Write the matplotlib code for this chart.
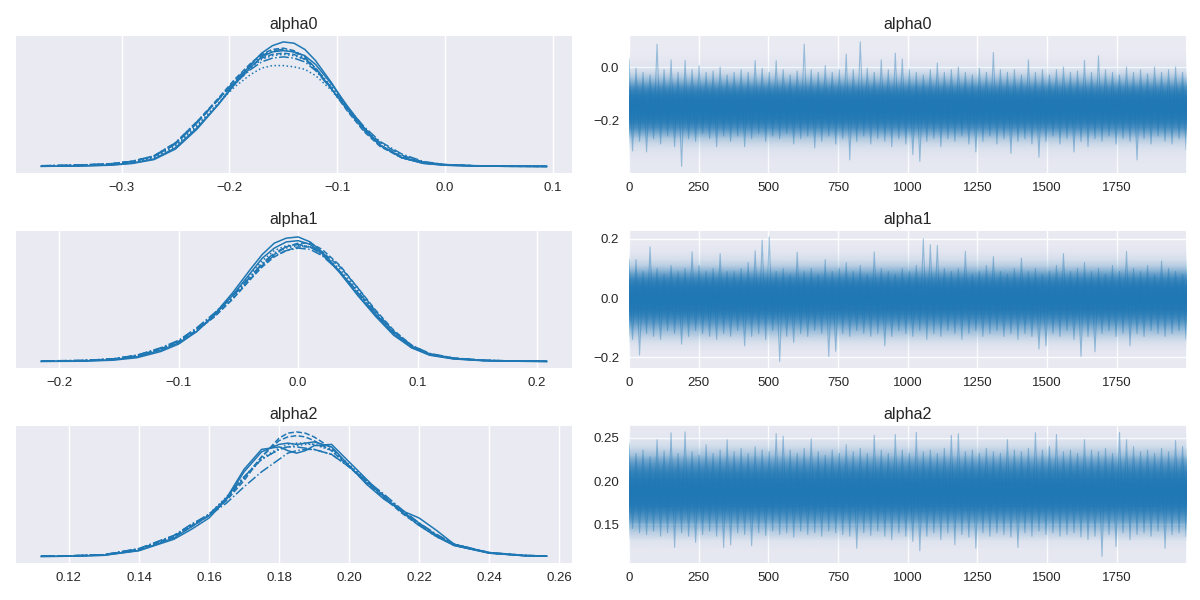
import matplotlib
matplotlib.use("Agg")
import matplotlib.pyplot as plt
from matplotlib.colors import LinearSegmentedColormap, FuncNorm, to_rgba
from matplotlib.image import NonUniformImage
import numpy as np

plt.rcParams['font.family'] = ['Liberation Sans', 'DejaVu Sans']

C0 = "#1f77b4"
BG = "#EAEAF2"
params = ["alpha0", "alpha1", "alpha2"]
chain_styles = ["solid", "dotted", "dashed", "dashdot",
                "solid", "dotted", "dashed", "dashdot"]

# ---------------- KDE curves (relative density, one list per chain) -------------
kde_x_alpha0 = [-0.3746, -0.34, -0.31, -0.29, -0.27, -0.25, -0.23, -0.21, -0.195, -0.18,
                -0.17, -0.16, -0.15, -0.14, -0.13, -0.12, -0.105, -0.09, -0.075, -0.06,
                -0.04, -0.02, 0.0, 0.03, 0.06, 0.0945]
kde_alpha0 = [
    [0.001, 0.003, 0.010, 0.024, 0.055, 0.14, 0.30, 0.50, 0.67, 0.82, 0.91, 0.97, 1.00, 0.99, 0.94, 0.85, 0.67, 0.47, 0.30, 0.17, 0.07, 0.025, 0.010, 0.003, 0.001, 0.000],
    [0.004, 0.008, 0.018, 0.035, 0.075, 0.17, 0.33, 0.51, 0.64, 0.74, 0.79, 0.81, 0.81, 0.80, 0.78, 0.73, 0.61, 0.45, 0.30, 0.17, 0.07, 0.03, 0.015, 0.005, 0.002, 0.000],
    [0.005, 0.010, 0.022, 0.042, 0.085, 0.19, 0.36, 0.55, 0.70, 0.83, 0.90, 0.94, 0.95, 0.93, 0.88, 0.79, 0.62, 0.44, 0.28, 0.16, 0.07, 0.03, 0.012, 0.004, 0.001, 0.000],
    [0.006, 0.012, 0.020, 0.040, 0.080, 0.18, 0.35, 0.54, 0.69, 0.82, 0.89, 0.93, 0.94, 0.92, 0.87, 0.79, 0.63, 0.47, 0.32, 0.20, 0.10, 0.04, 0.015, 0.005, 0.002, 0.001],
    [0.001, 0.004, 0.012, 0.028, 0.060, 0.15, 0.31, 0.50, 0.66, 0.80, 0.88, 0.92, 0.93, 0.92, 0.89, 0.82, 0.66, 0.48, 0.31, 0.17, 0.07, 0.025, 0.010, 0.003, 0.001, 0.000],
    [0.003, 0.007, 0.017, 0.033, 0.070, 0.16, 0.32, 0.51, 0.66, 0.79, 0.86, 0.89, 0.90, 0.89, 0.86, 0.79, 0.64, 0.47, 0.30, 0.17, 0.075, 0.03, 0.013, 0.004, 0.001, 0.000],
    [0.004, 0.009, 0.020, 0.040, 0.080, 0.18, 0.35, 0.54, 0.68, 0.80, 0.87, 0.90, 0.91, 0.90, 0.86, 0.78, 0.62, 0.45, 0.29, 0.17, 0.08, 0.035, 0.015, 0.006, 0.003, 0.001],
    [0.005, 0.010, 0.022, 0.042, 0.085, 0.19, 0.36, 0.54, 0.67, 0.78, 0.84, 0.87, 0.88, 0.87, 0.84, 0.77, 0.62, 0.46, 0.31, 0.19, 0.09, 0.035, 0.014, 0.005, 0.002, 0.000],
]

kde_x_alpha1 = [-0.2151, -0.18, -0.155, -0.135, -0.115, -0.10, -0.085, -0.07, -0.055, -0.04,
                -0.03, -0.02, -0.01, 0.0, 0.01, 0.02, 0.035, 0.05, 0.065, 0.08,
                0.095, 0.11, 0.13, 0.155, 0.18, 0.208]
kde_alpha1 = [
    [0.000, 0.002, 0.010, 0.030, 0.08, 0.14, 0.24, 0.38, 0.55, 0.74, 0.86, 0.95, 0.99, 1.00, 0.96, 0.88, 0.72, 0.53, 0.36, 0.21, 0.11, 0.05, 0.020, 0.006, 0.002, 0.000],
    [0.003, 0.007, 0.020, 0.048, 0.10, 0.16, 0.25, 0.37, 0.51, 0.67, 0.78, 0.86, 0.91, 0.93, 0.92, 0.87, 0.74, 0.57, 0.39, 0.24, 0.12, 0.06, 0.025, 0.009, 0.004, 0.001],
    [0.002, 0.006, 0.018, 0.044, 0.10, 0.16, 0.25, 0.36, 0.50, 0.66, 0.77, 0.86, 0.92, 0.95, 0.95, 0.90, 0.77, 0.59, 0.40, 0.24, 0.12, 0.06, 0.025, 0.008, 0.003, 0.001],
    [0.004, 0.008, 0.020, 0.050, 0.11, 0.17, 0.27, 0.39, 0.53, 0.68, 0.78, 0.85, 0.89, 0.91, 0.90, 0.85, 0.72, 0.56, 0.39, 0.24, 0.13, 0.065, 0.028, 0.010, 0.004, 0.002],
    [0.001, 0.004, 0.014, 0.038, 0.09, 0.15, 0.24, 0.37, 0.53, 0.71, 0.83, 0.91, 0.96, 0.97, 0.94, 0.87, 0.71, 0.53, 0.37, 0.22, 0.11, 0.055, 0.022, 0.007, 0.002, 0.000],
    [0.002, 0.006, 0.017, 0.045, 0.10, 0.16, 0.26, 0.38, 0.53, 0.70, 0.81, 0.89, 0.93, 0.94, 0.92, 0.86, 0.72, 0.55, 0.38, 0.23, 0.12, 0.06, 0.024, 0.008, 0.003, 0.001],
    [0.003, 0.007, 0.020, 0.046, 0.10, 0.16, 0.25, 0.36, 0.50, 0.66, 0.76, 0.84, 0.89, 0.92, 0.92, 0.88, 0.76, 0.59, 0.41, 0.25, 0.13, 0.06, 0.026, 0.009, 0.004, 0.001],
    [0.004, 0.008, 0.021, 0.050, 0.105, 0.165, 0.26, 0.38, 0.52, 0.68, 0.79, 0.87, 0.92, 0.94, 0.92, 0.86, 0.72, 0.55, 0.38, 0.23, 0.12, 0.06, 0.026, 0.009, 0.004, 0.002],
]

kde_x_alpha2 = [0.1121, 0.12, 0.13, 0.14, 0.15, 0.155, 0.16, 0.165, 0.17, 0.175,
                0.18, 0.1825, 0.185, 0.1875, 0.19, 0.195, 0.20, 0.205, 0.21, 0.215,
                0.22, 0.225, 0.23, 0.24, 0.25, 0.2564]
kde_alpha2 = [
    [0.002, 0.004, 0.012, 0.050, 0.15, 0.24, 0.33, 0.47, 0.70, 0.86, 0.88, 0.85, 0.83, 0.85, 0.89, 0.90, 0.76, 0.62, 0.48, 0.36, 0.27, 0.17, 0.09, 0.028, 0.008, 0.004],
    [0.004, 0.006, 0.014, 0.058, 0.16, 0.25, 0.34, 0.47, 0.63, 0.78, 0.86, 0.88, 0.89, 0.90, 0.90, 0.86, 0.74, 0.61, 0.49, 0.37, 0.26, 0.17, 0.10, 0.032, 0.010, 0.005],
    [0.006, 0.007, 0.015, 0.060, 0.165, 0.25, 0.33, 0.45, 0.61, 0.80, 0.95, 0.99, 1.00, 0.99, 0.96, 0.87, 0.73, 0.60, 0.48, 0.36, 0.25, 0.16, 0.09, 0.030, 0.009, 0.004],
    [0.005, 0.007, 0.016, 0.065, 0.17, 0.26, 0.33, 0.43, 0.56, 0.68, 0.78, 0.83, 0.85, 0.86, 0.86, 0.82, 0.72, 0.61, 0.50, 0.38, 0.27, 0.18, 0.10, 0.034, 0.011, 0.005],
    [0.002, 0.004, 0.011, 0.048, 0.14, 0.22, 0.31, 0.46, 0.68, 0.84, 0.90, 0.91, 0.90, 0.91, 0.92, 0.88, 0.73, 0.58, 0.46, 0.37, 0.31, 0.21, 0.10, 0.030, 0.008, 0.004],
    [0.004, 0.006, 0.014, 0.060, 0.165, 0.25, 0.34, 0.48, 0.64, 0.79, 0.87, 0.90, 0.91, 0.91, 0.90, 0.85, 0.73, 0.60, 0.48, 0.36, 0.26, 0.17, 0.095, 0.030, 0.010, 0.005],
    [0.005, 0.006, 0.014, 0.058, 0.16, 0.24, 0.33, 0.46, 0.63, 0.80, 0.93, 0.96, 0.97, 0.96, 0.93, 0.85, 0.72, 0.59, 0.47, 0.35, 0.25, 0.16, 0.09, 0.030, 0.009, 0.004],
    [0.005, 0.007, 0.016, 0.064, 0.17, 0.26, 0.34, 0.47, 0.64, 0.78, 0.86, 0.88, 0.88, 0.87, 0.86, 0.82, 0.72, 0.60, 0.49, 0.37, 0.26, 0.17, 0.10, 0.033, 0.011, 0.005],
]

# ---------------- Trace envelopes (per block of 25 draws: highest / lowest value) ----
n_draws = 2000
trace_hi_alpha0 = [0.03, -0.005, -0.02, -0.03, 0.086, -0.01, 0.027, -0.02, 0.025, -0.01,
                   0.005, -0.02, -0.015, 0.0, -0.03, -0.02, -0.01, -0.02, 0.024, -0.005,
                   -0.02, 0.024, -0.01, -0.03, -0.015, 0.086, -0.01, -0.02, 0.005, -0.02,
                   -0.01, 0.049, -0.01, 0.0945, -0.005, -0.02, 0.027, -0.01, 0.052, 0.03,
                   -0.01, -0.02, -0.03, -0.01, 0.015, -0.02, -0.01, 0.0, -0.02, -0.03,
                   -0.005, -0.02, 0.055, -0.01, -0.02, -0.01, -0.03, 0.027, -0.02, -0.01,
                   -0.03, -0.01, 0.0, -0.02, -0.015, 0.025, -0.02, 0.042, -0.01, -0.02,
                   -0.03, 0.0, -0.02, -0.01, -0.025, 0.0, -0.02, -0.01, 0.0, -0.02]
trace_lo_alpha0 = [-0.316, -0.28, -0.32, -0.27, -0.29, -0.26, -0.30, -0.3746, -0.27, -0.28,
                   -0.25, -0.27, -0.30, -0.26, -0.28, -0.26, -0.30, -0.27, -0.25, -0.28,
                   -0.26, -0.27, -0.25, -0.29, -0.27, -0.26, -0.305, -0.28, -0.26, -0.29,
                   -0.27, -0.35, -0.28, -0.26, -0.29, -0.27, -0.28, -0.30, -0.27, -0.29,
                   -0.33, -0.356, -0.28, -0.27, -0.30, -0.27, -0.28, -0.26, -0.29, -0.32,
                   -0.28, -0.26, -0.29, -0.27, -0.325, -0.28, -0.27, -0.29, -0.34, -0.28,
                   -0.26, -0.29, -0.27, -0.32, -0.28, -0.30, -0.27, -0.28, -0.26, -0.29,
                   -0.27, -0.28, -0.35, -0.27, -0.29, -0.26, -0.28, -0.29, -0.27, -0.31]

trace_hi_alpha1 = [0.13, 0.13, 0.09, 0.173, 0.10, 0.08, 0.11, 0.09, 0.10, 0.156,
                   0.11, 0.09, 0.10, 0.15, 0.09, 0.09, 0.10, 0.12, 0.16, 0.196,
                   0.2067, 0.09, 0.10, 0.08, 0.155, 0.09, 0.10, 0.08, 0.13, 0.09,
                   0.10, 0.12, 0.09, 0.11, 0.08, 0.156, 0.10, 0.09, 0.08, 0.10,
                   0.09, 0.11, 0.20, 0.18, 0.178, 0.10, 0.09, 0.10, 0.158, 0.08,
                   0.09, 0.11, 0.14, 0.09, 0.08, 0.10, 0.135, 0.09, 0.10, 0.08,
                   0.09, 0.11, 0.15, 0.09, 0.10, 0.12, 0.09, 0.10, 0.08, 0.11,
                   0.09, 0.158, 0.10, 0.09, 0.11, 0.08, 0.125, 0.10, 0.09, 0.08]
trace_lo_alpha1 = [-0.14, -0.193, -0.12, -0.13, -0.14, -0.11, -0.12, -0.156, -0.13, -0.11,
                   -0.12, -0.13, -0.14, -0.12, -0.13, -0.11, -0.162, -0.13, -0.12, -0.14,
                   -0.11, -0.2146, -0.13, -0.15, -0.12, -0.13, -0.11, -0.12, -0.198, -0.18,
                   -0.12, -0.13, -0.11, -0.12, -0.13, -0.12, -0.162, -0.13, -0.11, -0.12,
                   -0.13, -0.11, -0.14, -0.12, -0.13, -0.11, -0.12, -0.14, -0.12, -0.11,
                   -0.13, -0.12, -0.11, -0.13, -0.12, -0.14, -0.12, -0.13, -0.173, -0.162,
                   -0.12, -0.13, -0.11, -0.14, -0.198, -0.13, -0.182, -0.12, -0.11, -0.13,
                   -0.12, -0.162, -0.12, -0.13, -0.11, -0.12, -0.13, -0.12, -0.11, -0.14]

trace_hi_alpha2 = [0.243, 0.232, 0.236, 0.228, 0.248, 0.235, 0.256, 0.232, 0.257, 0.234,
                   0.230, 0.242, 0.232, 0.236, 0.248, 0.234, 0.238, 0.232, 0.240, 0.236,
                   0.234, 0.255, 0.252, 0.236, 0.232, 0.238, 0.249, 0.234, 0.230, 0.236,
                   0.232, 0.242, 0.234, 0.238, 0.232, 0.253, 0.236, 0.232, 0.254, 0.236,
                   0.232, 0.2564, 0.234, 0.236, 0.232, 0.238, 0.253, 0.255, 0.234, 0.236,
                   0.232, 0.238, 0.234, 0.232, 0.248, 0.236, 0.234, 0.238, 0.256, 0.236,
                   0.240, 0.254, 0.234, 0.236, 0.232, 0.248, 0.236, 0.234, 0.238, 0.232,
                   0.2564, 0.248, 0.240, 0.234, 0.236, 0.232, 0.238, 0.234, 0.247, 0.240]
trace_lo_alpha2 = [0.145, 0.140, 0.138, 0.142, 0.136, 0.140, 0.123, 0.140, 0.136, 0.129,
                   0.138, 0.142, 0.136, 0.123, 0.126, 0.140, 0.138, 0.125, 0.140, 0.137,
                   0.142, 0.138, 0.140, 0.135, 0.142, 0.138, 0.140, 0.136, 0.142, 0.140,
                   0.138, 0.136, 0.122, 0.140, 0.137, 0.142, 0.136, 0.132, 0.140, 0.136,
                   0.130, 0.119, 0.136, 0.140, 0.132, 0.140, 0.126, 0.138, 0.135, 0.122,
                   0.140, 0.136, 0.140, 0.138, 0.135, 0.123, 0.140, 0.136, 0.142, 0.138,
                   0.140, 0.136, 0.138, 0.140, 0.135, 0.132, 0.136, 0.1125, 0.138, 0.124,
                   0.140, 0.132, 0.138, 0.140, 0.136, 0.142, 0.122, 0.138, 0.140, 0.136]

kde_x = [kde_x_alpha0, kde_x_alpha1, kde_x_alpha2]
kde_y = [kde_alpha0, kde_alpha1, kde_alpha2]
tr_hi = [trace_hi_alpha0, trace_hi_alpha1, trace_hi_alpha2]
tr_lo = [trace_lo_alpha0, trace_lo_alpha1, trace_lo_alpha2]

kde_xticks = [[-0.3, -0.2, -0.1, 0.0, 0.1],
              [-0.2, -0.1, 0.0, 0.1, 0.2],
              [0.12, 0.14, 0.16, 0.18, 0.20, 0.22, 0.24, 0.26]]
trace_yticks = [[-0.2, 0.0], [-0.2, 0.0, 0.2], [0.15, 0.20, 0.25]]
trace_xticks = [0, 250, 500, 750, 1000, 1250, 1500, 1750]

# ---------------- figure ----------------
fig = plt.figure(figsize=(12, 6), dpi=100)
row_bottoms = [0.7122, 0.3872, 0.0622]
row_h = 0.2283
TXT = "#262626"

band_cmap = LinearSegmentedColormap.from_list(
    "band", [to_rgba(C0, 0.0), to_rgba(C0, 1.0)])
band_norm = FuncNorm((lambda v: 1 - np.exp(-4.5 * v), lambda v: -np.log(1 - v) / 4.5),
                     vmin=0, vmax=1)


def style_ax(ax):
    ax.set_facecolor(BG)
    for s in ax.spines.values():
        s.set_visible(False)
    ax.grid(True, color="white", linewidth=1.0)
    ax.set_axisbelow(True)
    ax.tick_params(length=0, pad=7, labelsize=9.5, colors=TXT)


for r, name in enumerate(params):
    # left: KDE per chain
    axk = fig.add_axes([0.0133, row_bottoms[r], 0.4633, row_h])
    style_ax(axk)
    for c, dens in enumerate(kde_y[r]):
        axk.plot(kde_x[r], dens, color=C0, lw=1.1, linestyle=chain_styles[c])
    axk.set_xticks(kde_xticks[r])
    axk.set_yticks([])
    axk.set_title(name, fontsize=11.6, color=TXT, pad=5)

    # right: trace -- dense band shaded by the pooled density, plus extremes
    axt = fig.add_axes([0.5242, row_bottoms[r], 0.4642, row_h])
    style_ax(axt)
    hi = np.asarray(tr_hi[r])
    lo = np.asarray(tr_lo[r])
    xs = np.linspace(0, n_draws - 1, 2 * len(hi))
    ys = np.column_stack([hi, lo]).ravel()
    axt.plot(xs, ys, color=C0, lw=0.8, alpha=0.4, zorder=2)

    dens = np.mean(np.asarray(kde_y[r]), axis=0)
    yy = np.asarray(kde_x[r], dtype=float)
    im = NonUniformImage(axt, interpolation="bilinear", cmap=band_cmap, norm=band_norm,
                         zorder=1.5)
    im.set_data(np.array([0.0, n_draws - 1.0]), yy, np.column_stack([dens, dens]))
    axt.add_image(im)

    axt.set_xlim(0, n_draws - 1)
    axt.set_xticks(trace_xticks)
    axt.set_yticks(trace_yticks[r])
    axt.set_title(name, fontsize=11.6, color=TXT, pad=5)

fig.savefig("out.png", dpi=100)
